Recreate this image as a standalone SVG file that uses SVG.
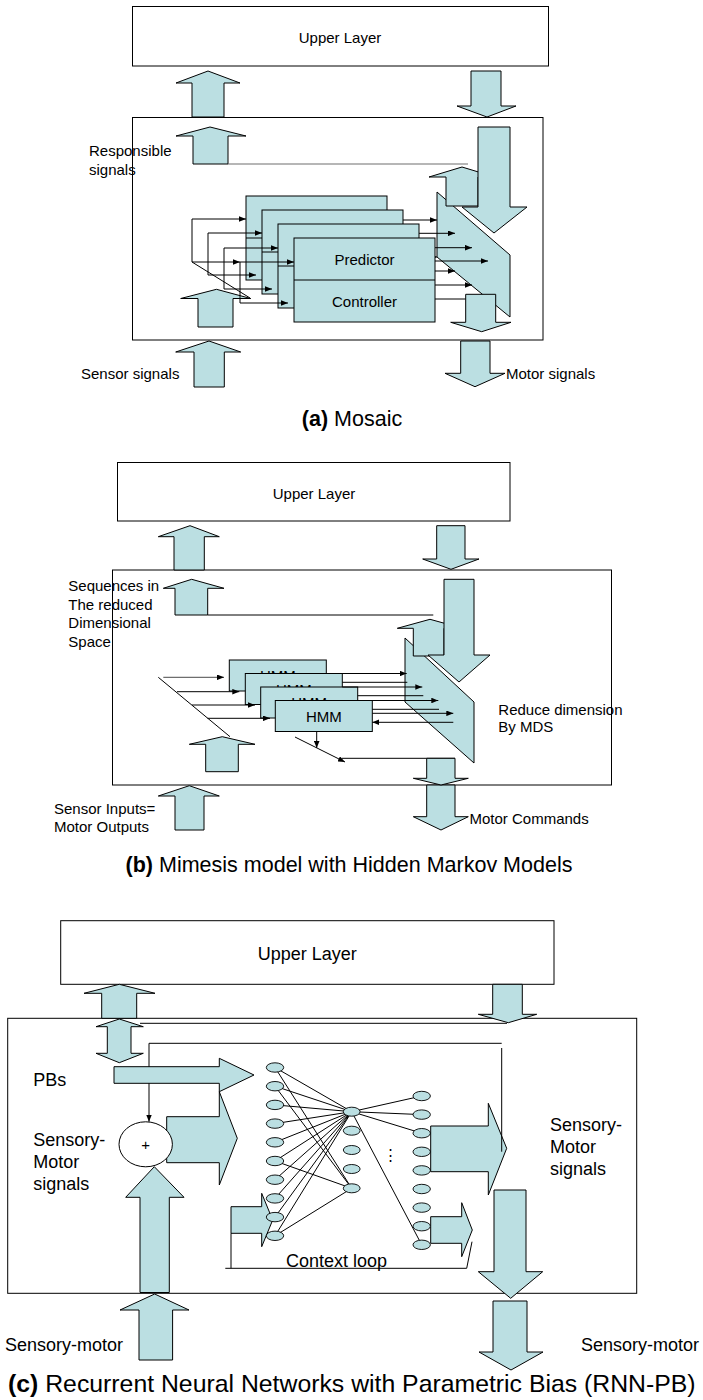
<svg xmlns="http://www.w3.org/2000/svg" width="703" height="1400" viewBox="0 0 703 1400">
  <defs>
    <style>
      .bx { fill: #ffffff; stroke: #000; stroke-width: 1; }
      .blk { fill: #BBDFE2; stroke: #000; stroke-width: 1; stroke-linejoin: miter; }
      .ln { fill: none; stroke: #000; stroke-width: 1; }
      .lg { fill: none; stroke: #6e6e6e; stroke-width: 1.2; }
      .arr { marker-end: url(#ah); }
      .nd { fill: #BBDFE2; stroke: #000; stroke-width: 0.9; }
      text { font-family: "Liberation Sans", Arial, Helvetica, sans-serif; fill: #000; }
      .t15 { font-size: 15px; }
      .t18 { font-size: 18px; }
      .cap { font-size: 21.5px; }
      .capc { font-size: 24.8px; }
      .b { font-weight: bold; }
    </style>
    <marker id="ah" viewBox="0 0 10 8" refX="10" refY="4" markerWidth="7" markerHeight="5.6" orient="auto" markerUnits="userSpaceOnUse">
      <path d="M0,0 L10,4 L0,8 z" fill="#000"/>
    </marker>
  </defs>

  <!-- ===================== (a) Mosaic ===================== -->
  <g id="a-upper-layer">
    <rect class="bx" x="132.5" y="6.5" width="416" height="59.5"/>
    <text class="t15" x="340" y="43" text-anchor="middle">Upper Layer</text>
  </g>
  <g id="a-module-frame">
    <rect class="bx" x="132.5" y="117.5" width="410.5" height="222.5"/>
  </g>

  <g id="a-block-arrows-outer">
    <polygon class="blk" points="192,117 192,83 176,83 208,71 240,83 224,83 224,117"/>
    <polygon class="blk" points="471,71 501,71 501,106 516,106 487,117 457,106 471,106"/>
    <polygon class="blk" points="194,387 194,352 175.7,352 209,341 240.7,352 224.3,352 224.3,387"/>
    <polygon class="blk" points="460.7,341 490,341 490,373.3 505,373.3 475,386.7 445,373.3 460.7,373.3"/>
  </g>

  <g id="a-responsible">
    <polygon class="blk" points="193,164 193,136 176,136 210,127 246,136 228,136 228,164"/>
    <line class="lg" x1="228" y1="164" x2="468" y2="164"/>
  </g>

  <g id="a-selector">
    <polygon class="blk" points="437,192 510,255 510,317 437,257"/>
  </g>

  <g id="a-connectors-out">
    <line class="ln arr" x1="403" y1="220" x2="437" y2="220"/>
    <line class="ln arr" x1="419" y1="233.3" x2="455" y2="233.3"/>
    <line class="ln arr" x1="435" y1="247.7" x2="472" y2="247.7"/>
    <line class="ln arr" x1="435" y1="261" x2="488" y2="261"/>
    <line class="ln arr" x1="431" y1="257" x2="437" y2="257"/>
    <line class="ln arr" x1="435" y1="271" x2="455" y2="271"/>
    <line class="ln arr" x1="435" y1="285" x2="472" y2="285"/>
    <line class="ln arr" x1="435" y1="299" x2="488" y2="299"/>
  </g>

  <g id="a-modules">
    <g id="a-module-1">
      <rect class="blk" x="246" y="196" width="141" height="84"/>
      <line class="ln" x1="246" y1="238" x2="387" y2="238"/>
    </g>
    <g id="a-module-2">
      <rect class="blk" x="262" y="210" width="141" height="84"/>
      <line class="ln" x1="262" y1="252" x2="403" y2="252"/>
    </g>
    <g id="a-module-3">
      <rect class="blk" x="278" y="224" width="141" height="84"/>
      <line class="ln" x1="278" y1="266" x2="419" y2="266"/>
    </g>
    <g id="a-module-4">
      <rect class="blk" x="294" y="238" width="141" height="84"/>
      <line class="ln" x1="294" y1="280" x2="435" y2="280"/>
      <text class="t15" x="364.5" y="264.5" text-anchor="middle">Predictor</text>
      <text class="t15" x="364.5" y="306.5" text-anchor="middle">Controller</text>
    </g>
  </g>

  <g id="a-sensor-inner">
    <polygon class="blk" points="198,327 198,298.5 180.7,298.5 216.5,289.3 250.7,298.5 233,298.5 233,327"/>
  </g>

  <g id="a-connectors-in">
    <line class="ln" x1="192" y1="262" x2="250" y2="298"/>
    <line class="ln" x1="192" y1="219" x2="192" y2="262"/>
    <line class="ln" x1="208" y1="233" x2="208" y2="275"/>
    <line class="ln" x1="224" y1="248" x2="224" y2="289"/>
    <line class="ln" x1="240" y1="262" x2="240" y2="303"/>
    <line class="ln arr" x1="192" y1="219" x2="246" y2="219"/>
    <line class="ln arr" x1="208" y1="233" x2="262" y2="233"/>
    <line class="ln arr" x1="224" y1="248" x2="278" y2="248"/>
    <line class="ln arr" x1="192" y1="262" x2="240" y2="262"/>
    <line class="ln arr" x1="240" y1="262" x2="294" y2="262"/>
    <line class="ln arr" x1="208" y1="275" x2="256" y2="275"/>
    <line class="ln arr" x1="224" y1="289" x2="272" y2="289"/>
    <line class="ln arr" x1="240" y1="303" x2="288" y2="303"/>
  </g>

  <g id="a-block-arrows-right">
    <polygon class="blk" points="446,206 446,177 429,177 462,167 495,177 478,177 478,206"/>
    <polygon class="blk" points="478,127 510,127 510,207 527,207 494,233 462,207 478,207"/>
    <polygon class="blk" points="465.7,294.3 495.7,294.3 495.7,322.3 511,322.3 481.7,331.7 450.7,322.3 465.7,322.3"/>
  </g>

  <g id="a-labels">
    <text class="t15" x="89" y="156">Responsible</text>
    <text class="t15" x="89" y="175">signals</text>
    <text class="t15" x="81" y="379">Sensor signals</text>
    <text class="t15" x="506" y="379">Motor signals</text>
    <text class="cap" x="352" y="426" text-anchor="middle"><tspan class="b">(a)</tspan> Mosaic</text>
  </g>

  <!-- ===================== (b) Mimesis / HMM ===================== -->
  <g id="b-upper-layer">
    <rect class="bx" x="117.5" y="462.5" width="392.5" height="58.5"/>
    <text class="t15" x="314" y="498.5" text-anchor="middle">Upper Layer</text>
  </g>
  <g id="b-module-frame">
    <rect class="bx" x="112.5" y="570" width="499" height="215"/>
  </g>

  <g id="b-block-arrows-outer">
    <polygon class="blk" points="174,570 174,536.7 158.3,536.7 190,525.7 219.3,536.7 204.3,536.7 204.3,570"/>
    <polygon class="blk" points="436.7,525.7 465,525.7 465,559 479,559 451,569.3 422.7,559 436.7,559"/>
    <polygon class="blk" points="175,830 175,796 158.3,796 189.3,785.7 219.3,796 204,796 204,830"/>
    <polygon class="blk" points="426.7,785 455,785 455,816.7 468.3,816.7 441,830 413.3,816.7 426.7,816.7"/>
  </g>

  <g id="b-sequences">
    <polygon class="blk" points="175,615 175,588.3 163.3,588.3 191.7,579.3 224,588.3 207.7,588.3 207.7,615"/>
    <line class="ln" x1="207.7" y1="615" x2="433.3" y2="615"/>
  </g>

  <g id="b-mds">
    <polygon class="blk" points="405,638 474,702 474,763 405,702"/>
  </g>

  <g id="b-hmms">
    <g id="b-hmm-1">
      <rect class="blk" x="229.3" y="660" width="97" height="31"/>
      <text class="t15" x="277.8" y="681" text-anchor="middle">HMM</text>
    </g>
    <g id="b-hmm-2">
      <rect class="blk" x="245.3" y="673.5" width="97" height="31"/>
      <text class="t15" x="293.8" y="694.5" text-anchor="middle">HMM</text>
    </g>
    <g id="b-hmm-3">
      <rect class="blk" x="260.7" y="687" width="97" height="31"/>
      <text class="t15" x="309.2" y="708" text-anchor="middle">HMM</text>
    </g>
    <g id="b-hmm-4">
      <rect class="blk" x="275.3" y="700.5" width="97" height="31"/>
      <text class="t15" x="323.8" y="721.5" text-anchor="middle">HMM</text>
    </g>
  </g>

  <g id="b-connectors">
    <line class="ln" x1="158.3" y1="677.3" x2="230" y2="736.7"/>
    <line class="lg arr" x1="163.3" y1="677.3" x2="224" y2="677.3"/>
    <line class="ln arr" x1="177" y1="691.7" x2="239.3" y2="691.7"/>
    <line class="ln arr" x1="192" y1="705" x2="255" y2="705"/>
    <line class="ln arr" x1="207.5" y1="718.3" x2="270" y2="718.3"/>
    <line class="ln arr" x1="326.3" y1="673.5" x2="406.7" y2="673.5"/>
    <line class="ln" x1="342.3" y1="682.3" x2="407.3" y2="682.3"/>
    <line class="ln arr" x1="342.3" y1="687" x2="422.3" y2="687"/>
    <line class="ln" x1="357.7" y1="695.7" x2="423.3" y2="695.7"/>
    <line class="ln arr" x1="357.7" y1="700.5" x2="438.3" y2="700.5"/>
    <line class="ln" x1="372.3" y1="709.3" x2="439" y2="709.3"/>
    <line class="ln arr" x1="372.3" y1="713.3" x2="453.3" y2="713.3"/>
    <line class="ln arr" x1="453.3" y1="722.3" x2="372.3" y2="722.3"/>
    <line class="ln arr" x1="316.7" y1="731.5" x2="316.7" y2="748"/>
    <line class="ln arr" x1="295" y1="737" x2="345" y2="762"/>
    <line class="ln" x1="341.7" y1="758.3" x2="455" y2="758.3"/>
  </g>

  <g id="b-block-arrows-inner">
    <polygon class="blk" points="413.3,656 413.3,628.3 397.3,628.3 430,619.3 462.7,628.3 444,628.3 444,656"/>
    <polygon class="blk" points="444,579.3 474,579.3 474,655 490,655 459,682 428,655 444,655"/>
    <polygon class="blk" points="426.7,758.3 455,758.3 455,778.3 468.3,778.3 441,785 413.3,778.3 426.7,778.3"/>
    <polygon class="blk" points="205.7,771.7 205.7,744.3 189.3,744.3 222.3,736.7 255,744.3 238.3,744.3 238.3,771.7"/>
  </g>

  <g id="b-labels">
    <text class="t15" x="68.3" y="591.3">Sequences in</text>
    <text class="t15" x="68.3" y="609.8">The reduced</text>
    <text class="t15" x="68.3" y="628.4">Dimensional</text>
    <text class="t15" x="68.3" y="647">Space</text>
    <text class="t15" x="498.3" y="715.3">Reduce dimension</text>
    <text class="t15" x="498.3" y="732.3">By MDS</text>
    <text class="t15" x="54" y="813.5">Sensor Inputs=</text>
    <text class="t15" x="54" y="831.5">Motor Outputs</text>
    <text class="t15" x="469.5" y="823.5">Motor Commands</text>
    <text class="cap" x="349" y="871.5" text-anchor="middle"><tspan class="b">(b)</tspan> Mimesis model with Hidden Markov Models</text>
  </g>

  <!-- ===================== (c) RNN-PB ===================== -->
  <g id="c-upper-layer">
    <rect class="bx" x="60.7" y="920.7" width="493.3" height="63.6"/>
    <text class="t18" x="307.3" y="959.7" text-anchor="middle">Upper Layer</text>
  </g>
  <g id="c-network-frame">
    <rect class="bx" x="7.7" y="1018.3" width="629" height="275"/>
    <line class="ln" x1="140" y1="1023.3" x2="507" y2="1023.3"/>
  </g>

  <g id="c-block-arrows-outer">
    <polygon class="blk" points="101.7,1018.3 101.7,993.3 84,993.3 119.3,984.3 155,993.3 136.7,993.3 136.7,1018.3"/>
    <polygon class="blk" points="492.7,984.3 522.3,984.3 522.3,1014.3 536.7,1014.3 508.3,1022.7 478.3,1014.3 492.7,1014.3"/>
    <polygon class="blk" points="107.3,1026.7 96,1026.7 119.3,1019 143.3,1026.7 131,1026.7 131,1053.3 143.3,1053.3 119.3,1062.7 96,1053.3 107.3,1053.3"/>
    <polygon class="blk" points="139,1360 139,1310 120,1310 154.7,1294 189,1310 172.6,1310 172.6,1360"/>
    <polygon class="blk" points="493,1301 527,1301 527,1352 543,1352 511,1370 479,1352 493,1352"/>
  </g>

  <g id="c-feedback">
    <line class="ln" x1="149" y1="1043.3" x2="501.7" y2="1043.3"/>
    <line class="ln arr" x1="149" y1="1043.3" x2="149" y2="1121.7"/>
  </g>

  <g id="c-pbs">
    <polygon class="blk" points="114,1066.7 219.3,1066.7 219.3,1058.3 254,1075 219.3,1091.7 219.3,1083.3 114,1083.3"/>
  </g>
  <g id="c-sum-out">
    <polygon class="blk" points="166.7,1116.7 219.3,1116.7 219.3,1091.7 237.3,1138.3 219.3,1185 219.3,1162.7 166.7,1162.7"/>
  </g>
  <g id="c-sensory-in">
    <polygon class="blk" points="140,1292.5 140,1197.3 125.7,1197.3 154.3,1166.7 184,1197.3 169.3,1197.3 169.3,1292.5"/>
  </g>
  <g id="c-sum">
    <ellipse cx="145.7" cy="1144.3" rx="26.7" ry="22.5" fill="#fff" stroke="#000" stroke-width="1"/>
    <text class="t15" x="145.7" y="1149.5" text-anchor="middle">+</text>
  </g>

  <g id="c-context">
    <polygon class="blk" points="231,1206.7 261.7,1206.7 261.7,1193.3 272.7,1220 261.7,1246.7 261.7,1233.3 231,1233.3"/>
    <polygon class="blk" points="430.7,1216.7 461.7,1216.7 461.7,1202.7 472.3,1230 461.7,1256.7 461.7,1243.3 430.7,1243.3"/>
    <path class="ln" d="M231,1233.3 V1268.3 M225.3,1268.3 H466.7 L472,1241.7"/>
  </g>

  <g id="c-weights">
    <path class="ln" d="M275,1067.5 L351.7,1111.7 M275,1086.2 L351.7,1111.7 M275,1104.9 L351.7,1111.7 M275,1123.6 L351.7,1111.7 M275,1142.3 L351.7,1111.7 M275,1161 L351.7,1111.7 M275,1179.7 L351.7,1111.7 M275,1198.4 L351.7,1111.7 M275,1217.1 L351.7,1111.7 M275,1235.8 L351.7,1111.7"/>
    <path class="ln" d="M275,1067.5 L351.7,1188.3 M275,1086.2 L351.7,1188.3 M275,1161 L351.7,1188.3 M275,1235.8 L351.7,1188.3"/>
    <path class="ln" d="M351.7,1111.7 L421.7,1096 M351.7,1111.7 L421.7,1114.6 M351.7,1111.7 L421.7,1133.2 M351.7,1111.7 L421.7,1244.8"/>
  </g>

  <g id="c-input-layer">
    <ellipse class="nd" cx="275" cy="1067.5" rx="8.7" ry="4.7"/>
    <ellipse class="nd" cx="275" cy="1086.2" rx="8.7" ry="4.7"/>
    <ellipse class="nd" cx="275" cy="1104.9" rx="8.7" ry="4.7"/>
    <ellipse class="nd" cx="275" cy="1123.6" rx="8.7" ry="4.7"/>
    <ellipse class="nd" cx="275" cy="1142.3" rx="8.7" ry="4.7"/>
    <ellipse class="nd" cx="275" cy="1161" rx="8.7" ry="4.7"/>
    <ellipse class="nd" cx="275" cy="1179.7" rx="8.7" ry="4.7"/>
    <ellipse class="nd" cx="275" cy="1198.4" rx="8.7" ry="4.7"/>
    <ellipse class="nd" cx="275" cy="1217.1" rx="8.7" ry="4.7"/>
    <ellipse class="nd" cx="275" cy="1235.8" rx="8.7" ry="4.7"/>
  </g>
  <g id="c-hidden-layer">
    <ellipse class="nd" cx="351.7" cy="1111.7" rx="8.4" ry="4.5"/>
    <ellipse class="nd" cx="351.7" cy="1130.7" rx="8.4" ry="4.5"/>
    <ellipse class="nd" cx="351.7" cy="1150" rx="8.4" ry="4.5"/>
    <ellipse class="nd" cx="351.7" cy="1169" rx="8.4" ry="4.5"/>
    <ellipse class="nd" cx="351.7" cy="1188.3" rx="8.4" ry="4.5"/>
  </g>
  <g id="c-output-layer">
    <ellipse class="nd" cx="421.7" cy="1096" rx="8.7" ry="4.7"/>
    <ellipse class="nd" cx="421.7" cy="1114.6" rx="8.7" ry="4.7"/>
    <ellipse class="nd" cx="421.7" cy="1133.2" rx="8.7" ry="4.7"/>
    <ellipse class="nd" cx="421.7" cy="1151.8" rx="8.7" ry="4.7"/>
    <ellipse class="nd" cx="421.7" cy="1170.4" rx="8.7" ry="4.7"/>
    <ellipse class="nd" cx="421.7" cy="1189" rx="8.7" ry="4.7"/>
    <ellipse class="nd" cx="421.7" cy="1207.6" rx="8.7" ry="4.7"/>
    <ellipse class="nd" cx="421.7" cy="1226.2" rx="8.7" ry="4.7"/>
    <ellipse class="nd" cx="421.7" cy="1244.8" rx="8.7" ry="4.7"/>
    <text x="390.7" y="1160" font-size="15" font-family="DejaVu Sans, sans-serif" text-anchor="middle">⋮</text>
  </g>

  <g id="c-sensory-out">
    <polygon class="blk" points="430.7,1126 488.3,1126 488.3,1103.3 506.7,1148.3 488.3,1195 488.3,1171.7 430.7,1171.7"/>
    <line class="ln" x1="501.7" y1="1048" x2="501.7" y2="1151.7"/>
    <polygon class="blk" points="494,1190 526,1190 526,1271.7 542.7,1271.7 510.7,1298.3 478.3,1271.7 494,1271.7"/>
  </g>

  <g id="c-labels">
    <text class="t18" x="33.3" y="1086.4">PBs</text>
    <text class="t18" x="33.3" y="1146.4">Sensory-</text>
    <text class="t18" x="33.3" y="1168.2">Motor</text>
    <text class="t18" x="33.3" y="1189.8">signals</text>
    <text class="t18" x="550" y="1131.4">Sensory-</text>
    <text class="t18" x="550" y="1153">Motor</text>
    <text class="t18" x="550" y="1174.7">signals</text>
    <text class="t18" x="286" y="1266.5">Context loop</text>
    <text class="t18" x="5" y="1351">Sensory-motor</text>
    <text class="t18" x="581" y="1351">Sensory-motor</text>
    <text class="capc" x="8" y="1392"><tspan class="b">(c)</tspan> Recurrent Neural Networks with Parametric Bias (RNN-PB)</text>
  </g>
</svg>
